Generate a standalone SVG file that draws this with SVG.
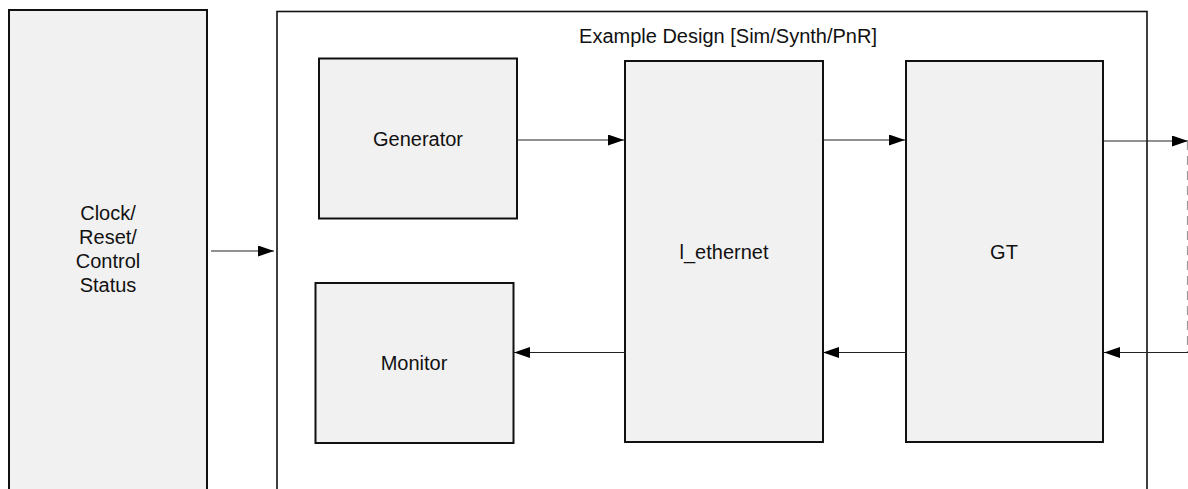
<svg xmlns="http://www.w3.org/2000/svg" width="1188" height="489" viewBox="0 0 1188 489">
<style>
.box{fill:#f1f1f1;stroke:#111;stroke-width:2}
.frame{fill:#fff;stroke:#111;stroke-width:1.6}
.lbl{font-family:"Liberation Sans",Arial,sans-serif;font-size:20px;fill:#111;text-anchor:middle}
.conn{stroke:#222;stroke-width:1.2;fill:none}
.dash{stroke:#999;stroke-width:1.2;fill:none;stroke-dasharray:9 6}
</style>
<defs>
<marker id="arr" markerWidth="16" markerHeight="11" refX="16" refY="5.5" orient="auto" markerUnits="userSpaceOnUse">
<path d="M0,0 L16,5.5 L0,11 Z" fill="#000"/>
</marker>
</defs>
<rect width="1188" height="489" fill="#fff"/>
<g id="ctrl">
<rect class="box" x="9" y="10" width="198" height="500"/>
<text class="lbl" x="108" y="220">Clock/</text>
<text class="lbl" x="108" y="244">Reset/</text>
<text class="lbl" x="108" y="268">Control</text>
<text class="lbl" x="108" y="292">Status</text>
</g>
<g id="example">
<rect class="frame" x="277" y="11.5" width="870" height="500"/>
<text class="lbl" x="728" y="43">Example Design [Sim/Synth/PnR]</text>
</g>
<g id="generator">
<rect class="box" x="319" y="58.5" width="198" height="160"/>
<text class="lbl" x="418" y="146">Generator</text>
</g>
<g id="monitor">
<rect class="box" x="315.5" y="283" width="198" height="160"/>
<text class="lbl" x="414" y="370">Monitor</text>
</g>
<g id="l_ethernet">
<rect class="box" x="625" y="61" width="198" height="381"/>
<text class="lbl" x="724" y="259">l_ethernet</text>
</g>
<g id="gt">
<rect class="box" x="906" y="61" width="197" height="381"/>
<text class="lbl" x="1004" y="259">GT</text>
</g>
<g id="connectors">
<line class="conn" x1="211" y1="251" x2="274" y2="251" marker-end="url(#arr)"/>
<line class="conn" x1="517" y1="140" x2="624" y2="140" marker-end="url(#arr)"/>
<line class="conn" x1="823" y1="140" x2="905" y2="140" marker-end="url(#arr)"/>
<line class="conn" x1="1103" y1="141" x2="1188" y2="141" marker-end="url(#arr)"/>
<line class="dash" x1="1187.5" y1="141" x2="1187.5" y2="352"/>
<line class="conn" x1="1188" y1="352.5" x2="1104" y2="352.5" marker-end="url(#arr)"/>
<line class="conn" x1="906" y1="352.5" x2="823" y2="352.5" marker-end="url(#arr)"/>
<line class="conn" x1="625" y1="352.5" x2="514" y2="352.5" marker-end="url(#arr)"/>
</g>
</svg>
